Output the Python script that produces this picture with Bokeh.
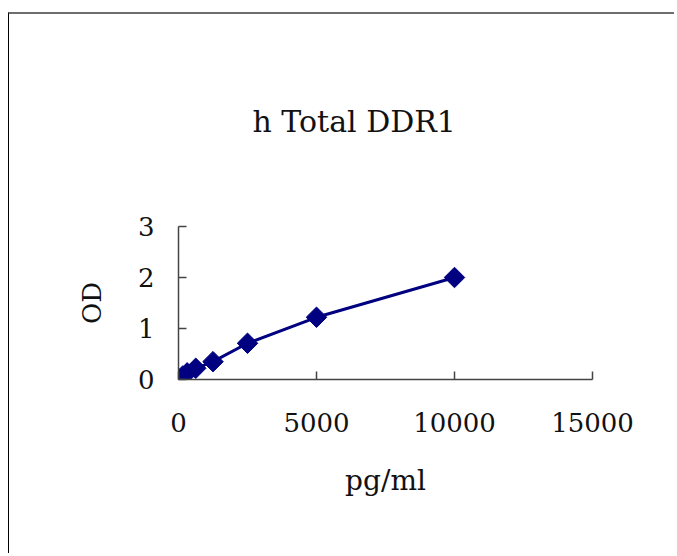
import numpy as np
from bokeh.plotting import figure
from bokeh.models import Range1d, FixedTicker
from bokeh.embed import file_html
from bokeh.resources import INLINE

# data
conc = [0, 156.25, 312.5, 625, 1250, 2500, 5000, 10000]
od = [0.02, 0.07, 0.13, 0.22, 0.35, 0.71, 1.22, 2.0]
x_ticks = [0, 5000, 10000, 15000]
y_ticks = [0, 1, 2, 3]
title_text = "h Total DDR1"
x_label = "pg/ml"
y_label = "OD"

FONT = "DejaVu Serif"
NAVY = "#000080"
AXC = "#444444"

p = figure(width=666, height=541, output_backend="svg", toolbar_location=None,
           x_range=Range1d(0, 15000), y_range=Range1d(0, 3),
           min_border_left=169, min_border_right=83, min_border_top=212,
           min_border_bottom=176, margin=(12, 0, 0, 8),
           styles={"border-top": "2px solid #6e6e6e", "border-left": "1px solid #000000"})
p.outline_line_color = None
p.grid.visible = False
p.background_fill_color = "white"
p.border_fill_color = "white"

p.title.text = title_text
p.title.text_font = FONT
p.title.text_font_size = "30px"
p.title.text_font_style = "normal"
p.title.text_color = "#111111"
p.title.align = "left"
p.title.offset = 74
p.title.vertical_align = "top"
p.title.standoff = 172

for ax in (p.xaxis[0], p.yaxis[0]):
    ax.axis_line_color = AXC
    ax.axis_line_width = 1.5
    ax.major_tick_line_color = AXC
    ax.major_tick_line_width = 1.5
    ax.major_tick_in = 8
    ax.major_tick_out = 0
    ax.minor_tick_line_color = None
    ax.major_label_text_font = FONT
    ax.major_label_text_color = "#111111"
    ax.axis_label_text_font = FONT
    ax.axis_label_text_font_style = "normal"
    ax.axis_label_text_color = "#111111"

p.xaxis.ticker = FixedTicker(ticks=x_ticks)
p.yaxis.ticker = FixedTicker(ticks=y_ticks)
p.xaxis.major_label_text_font_size = "26px"
p.yaxis.major_label_text_font_size = "26px"
p.xaxis.major_label_standoff = 33
p.yaxis.major_label_standoff = 24
p.xaxis.axis_label = x_label
p.yaxis.axis_label = y_label
p.xaxis.axis_label_text_font_size = "28px"
p.yaxis.axis_label_text_font_size = "26px"
p.xaxis.axis_label_standoff = 29
p.yaxis.axis_label_standoff = 28

p.line(conc, od, line_color=NAVY, line_width=3)
p.scatter(conc, od, marker="square", size=14.5, angle=np.pi / 4,
          fill_color=NAVY, line_color=NAVY)

open("out.html", "w").write(file_html(p, INLINE))
